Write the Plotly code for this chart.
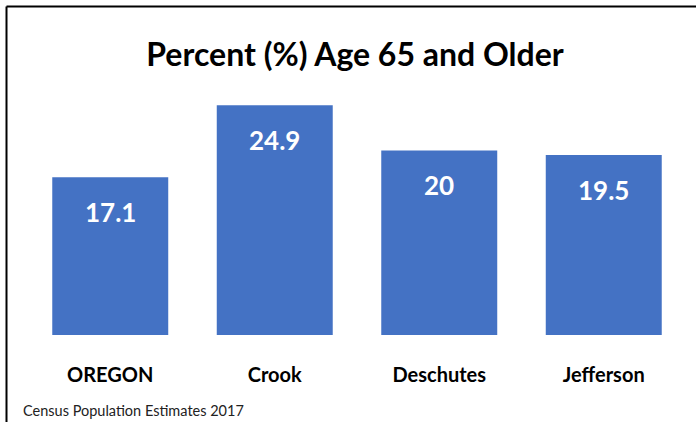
import plotly.graph_objects as go

categories = ["OREGON", "Crook", "Deschutes", "Jefferson"]
values = [17.1, 24.9, 20, 19.5]
value_labels = ["17.1", "24.9", "20", "19.5"]
title_text = "Percent (%) Age 65 and Older"
source_text = "Census Population Estimates 2017"

W, H = 696, 422
ml, mr, mt, mb = 28, 10, 95, 87
pw = W - ml - mr
ph = H - mt - mb

FONT = "Lato, 'Open Sans', sans-serif"

fig = go.Figure(go.Bar(
    x=categories, y=values,
    marker=dict(color="#4472C4", line=dict(width=0)),
    hoverinfo="skip",
))

for c, v, t in zip(categories, values, value_labels):
    fig.add_annotation(x=c, y=v, text=t, showarrow=False, yanchor="middle",
                       yshift=-35, font=dict(family=FONT, size=26, color="white", weight="bold"))

def px_x(x):
    return (x - ml) / pw

def px_y(y):
    return (H - mb - y) / ph

fig.add_annotation(xref="paper", yref="paper", x=px_x(21), y=px_y(410), xanchor="left",
                   yanchor="middle", showarrow=False, text=source_text,
                   font=dict(family=FONT, size=14.5, color="#222"))

# frame lines (left and top)
fig.add_shape(type="line", xref="paper", yref="paper", x0=px_x(6.5), x1=px_x(6.5),
              y0=px_y(6.5), y1=px_y(H + 5), line=dict(color="black", width=2))
fig.add_shape(type="line", xref="paper", yref="paper", x0=px_x(6.5), x1=px_x(W + 5),
              y0=px_y(6.5), y1=px_y(6.5), line=dict(color="black", width=2))

fig.update_layout(
    width=W, height=H,
    margin=dict(l=ml, r=mr, t=mt, b=mb, autoexpand=False),
    paper_bgcolor="white", plot_bgcolor="white",
    bargap=0.295,
    showlegend=False,
    title=dict(text=title_text, x=0.497, xref="paper", xanchor="center", y=1 - 55 / H, yanchor="middle",
               font=dict(family=FONT, size=32, color="black", weight="bold")),
    xaxis=dict(showline=False, showgrid=False, ticks="", ticklabelstandoff=26,
               tickfont=dict(family=FONT, size=20, color="black", weight="bold")),
    yaxis=dict(range=[0, 26], visible=False, showgrid=False, zeroline=False),
)

fig.write_html("out.html", config={"displayModeBar": False},
               post_script="document.body.style.margin='0';")
